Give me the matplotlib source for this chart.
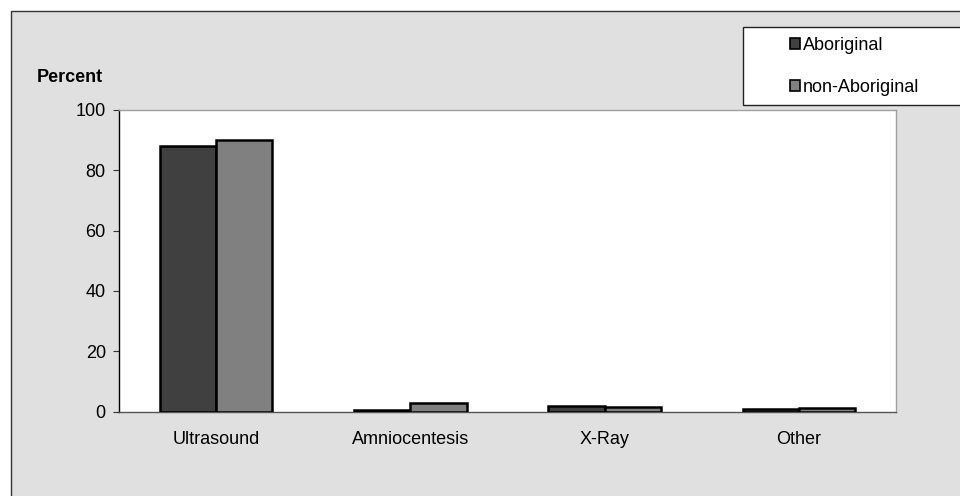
import matplotlib
matplotlib.use("Agg")
import matplotlib.pyplot as plt
import numpy as np
from matplotlib.patches import Rectangle, Patch

plt.rcParams['font.family'] = ['Liberation Sans', 'DejaVu Sans']

categories = ["Ultrasound", "Amniocentesis", "X-Ray", "Other"]
aboriginal = [88.0, 0.5, 1.7, 0.8]
non_aboriginal = [90.0, 2.8, 1.5, 1.0]
series_names = ["Aboriginal", "non-Aboriginal"]
yticks = [0, 20, 40, 60, 80, 100]

W, H = 960, 496
FS = 13
fig = plt.figure(figsize=(W / 100, H / 100), dpi=100)
fig.patch.set_facecolor("white")

# grey chart frame
fig.patches.append(Rectangle((11 / W, -0.1), 1.2, 1.1 - 11 / H,
                             transform=fig.transFigure, facecolor="#e0e0e0",
                             edgecolor="#333333", linewidth=1.0, zorder=-10))

ax = fig.add_axes([119 / W, 1 - 411.5 / H, (896 - 119) / W, (411.5 - 110) / H])
ax.set_zorder(2)
ax.set_facecolor("white")

x = np.arange(len(categories))
bw = 0.29
ax.bar(x - bw / 2, aboriginal, bw, color="#404040", edgecolor="black", linewidth=1.8, zorder=3)
ax.bar(x + bw / 2, non_aboriginal, bw, color="#808080", edgecolor="black", linewidth=1.8, zorder=3)

ax.set_xlim(-0.5, len(categories) - 0.5)
ax.set_ylim(0, 100)
ax.set_yticks(yticks)
ax.set_xticks(x)
ax.set_xticklabels(categories)
ax.tick_params(axis="y", length=4.5, width=0.8, pad=5, labelsize=FS, color="#333333")
ax.tick_params(axis="x", length=0, pad=14, labelsize=FS)

ax.spines["left"].set_color("black")
ax.spines["bottom"].set_color("#555555")
ax.spines["top"].set_color("#a0a0a0")
ax.spines["right"].set_color("#a0a0a0")
for s in ax.spines.values():
    s.set_linewidth(1.0)

fig.text(70 / W, 1 - 77 / H, "Percent", ha="center", va="center", fontsize=FS, fontweight="bold")

# legend box
fig.patches.append(Rectangle((743 / W, 1 - 105 / H), 0.5, (105 - 27) / H,
                             transform=fig.transFigure, facecolor="white",
                             edgecolor="#222222", linewidth=1.0, zorder=1))
handles = [Patch(facecolor="#404040", edgecolor="black", linewidth=1.2),
           Patch(facecolor="#808080", edgecolor="black", linewidth=1.2)]
fig.legend(handles, series_names, loc="upper left",
           bbox_to_anchor=(786 / W, 1 - 33 / H), frameon=False,
           fontsize=FS, handlelength=0.6, handleheight=0.6,
           handletextpad=0.15, labelspacing=1.4, borderaxespad=0, borderpad=0.2)

fig.savefig("out.png", dpi=100)
